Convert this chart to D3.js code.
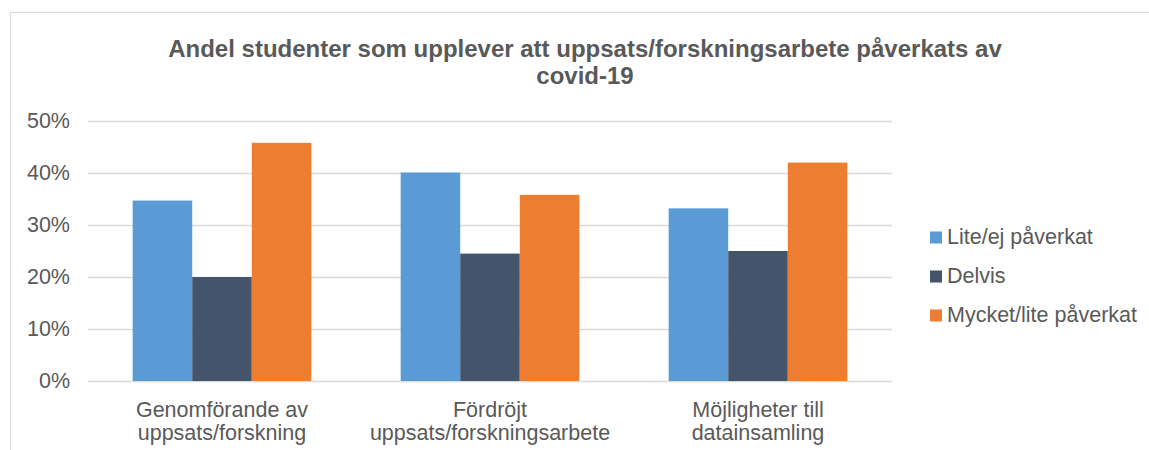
<!DOCTYPE html>
<html>
<head>
<meta charset="utf-8">
<script src="https://cdn.jsdelivr.net/npm/d3@7"></script>
<style>
  body { margin: 0; background: #fff; }
  text { font-family: "Liberation Sans", Arial, sans-serif; fill: #595959; }
</style>
</head>
<body>
<svg id="chart"></svg>
<script>
// data
var categories = [
  ["Genomförande av", "uppsats/forskning"],
  ["Fördröjt", "uppsats/forskningsarbete"],
  ["Möjligheter till", "datainsamling"]
];
var seriesNames = ["Lite/ej påverkat", "Delvis", "Mycket/lite påverkat"];
var seriesColors = ["#5B9BD5", "#44546A", "#ED7D31"];
var liteEj = [0.347, 0.401, 0.332];
var delvis = [0.200, 0.245, 0.250];
var mycket = [0.458, 0.358, 0.420];
var yTicks = [0, 0.1, 0.2, 0.3, 0.4, 0.5];
var titleLines = ["Andel studenter som upplever att uppsats/forskningsarbete påverkats av", "covid-19"];

var seriesValues = [liteEj, delvis, mycket];

var width = 1149, height = 450;
var labelSize = "21.5px";

var svg = d3.select("#chart")
  .attr("width", width)
  .attr("height", height);

// chart frame (only top and left edges are visible)
svg.append("path")
  .attr("d", "M10.5," + height + "V12.5H" + width)
  .attr("fill", "none")
  .attr("stroke", "#d9d9d9")
  .attr("stroke-width", 1);

// title
svg.append("text")
  .attr("x", 585)
  .attr("y", 57)
  .attr("text-anchor", "middle")
  .style("font-size", "24px")
  .style("font-weight", "bold")
  .selectAll("tspan")
  .data(titleLines)
  .enter().append("tspan")
  .attr("x", 585)
  .attr("dy", function(d, i) { return i === 0 ? 0 : 27; })
  .text(function(d) { return d; });

var x0 = d3.scaleBand()
  .domain(d3.range(categories.length))
  .range([88, 892])
  .paddingInner(1 / 3)
  .paddingOuter(1 / 6);

var x1 = d3.scaleBand()
  .domain(d3.range(seriesNames.length))
  .range([0, x0.bandwidth()]);

var y = d3.scaleLinear()
  .domain([0, 0.5])
  .range([381, 121]);

// gridlines
svg.append("g")
  .selectAll("line")
  .data(yTicks)
  .enter().append("line")
  .attr("x1", 88)
  .attr("x2", 892)
  .attr("y1", function(d) { return Math.round(y(d)) + 0.5; })
  .attr("y2", function(d) { return Math.round(y(d)) + 0.5; })
  .attr("stroke", "#d9d9d9")
  .attr("stroke-width", 1.5);

// y axis labels
var yAxis = d3.axisLeft(y)
  .tickValues(yTicks)
  .tickFormat(d3.format(".0%"))
  .tickSize(0)
  .tickPadding(0);

var gy = svg.append("g")
  .attr("transform", "translate(70,0)")
  .call(yAxis);
gy.select(".domain").remove();
gy.selectAll("text")
  .style("font-size", labelSize)
  .style("font-family", "\"Liberation Sans\", Arial, sans-serif")
  .attr("fill", "#595959");

// bars
var groups = svg.append("g")
  .selectAll("g")
  .data(categories)
  .enter().append("g")
  .attr("transform", function(d, i) { return "translate(" + x0(i) + ",0)"; });

groups.selectAll("rect")
  .data(function(d, i) {
    return seriesValues.map(function(s, j) { return { s: j, v: s[i] }; });
  })
  .enter().append("rect")
  .attr("x", function(d) { return x1(d.s); })
  .attr("width", x1.bandwidth())
  .attr("y", function(d) { return y(d.v); })
  .attr("height", function(d) { return y(0) - y(d.v); })
  .attr("fill", function(d) { return seriesColors[d.s]; });

// category labels
groups.append("text")
  .attr("x", x0.bandwidth() / 2)
  .attr("y", 417)
  .attr("text-anchor", "middle")
  .style("font-size", labelSize)
  .selectAll("tspan")
  .data(function(d) { return d; })
  .enter().append("tspan")
  .attr("x", x0.bandwidth() / 2)
  .attr("dy", function(d, i) { return i === 0 ? 0 : 23; })
  .text(function(d) { return d; });

// legend
var legend = svg.append("g")
  .selectAll("g")
  .data(seriesNames)
  .enter().append("g")
  .attr("transform", function(d, i) { return "translate(930," + (237.5 + i * 39) + ")"; });

legend.append("rect")
  .attr("x", 0)
  .attr("y", -6)
  .attr("width", 12)
  .attr("height", 12)
  .attr("fill", function(d, i) { return seriesColors[i]; });

legend.append("text")
  .attr("x", 17)
  .attr("y", 6)
  .style("font-size", labelSize)
  .text(function(d) { return d; });
</script>
</body>
</html>
